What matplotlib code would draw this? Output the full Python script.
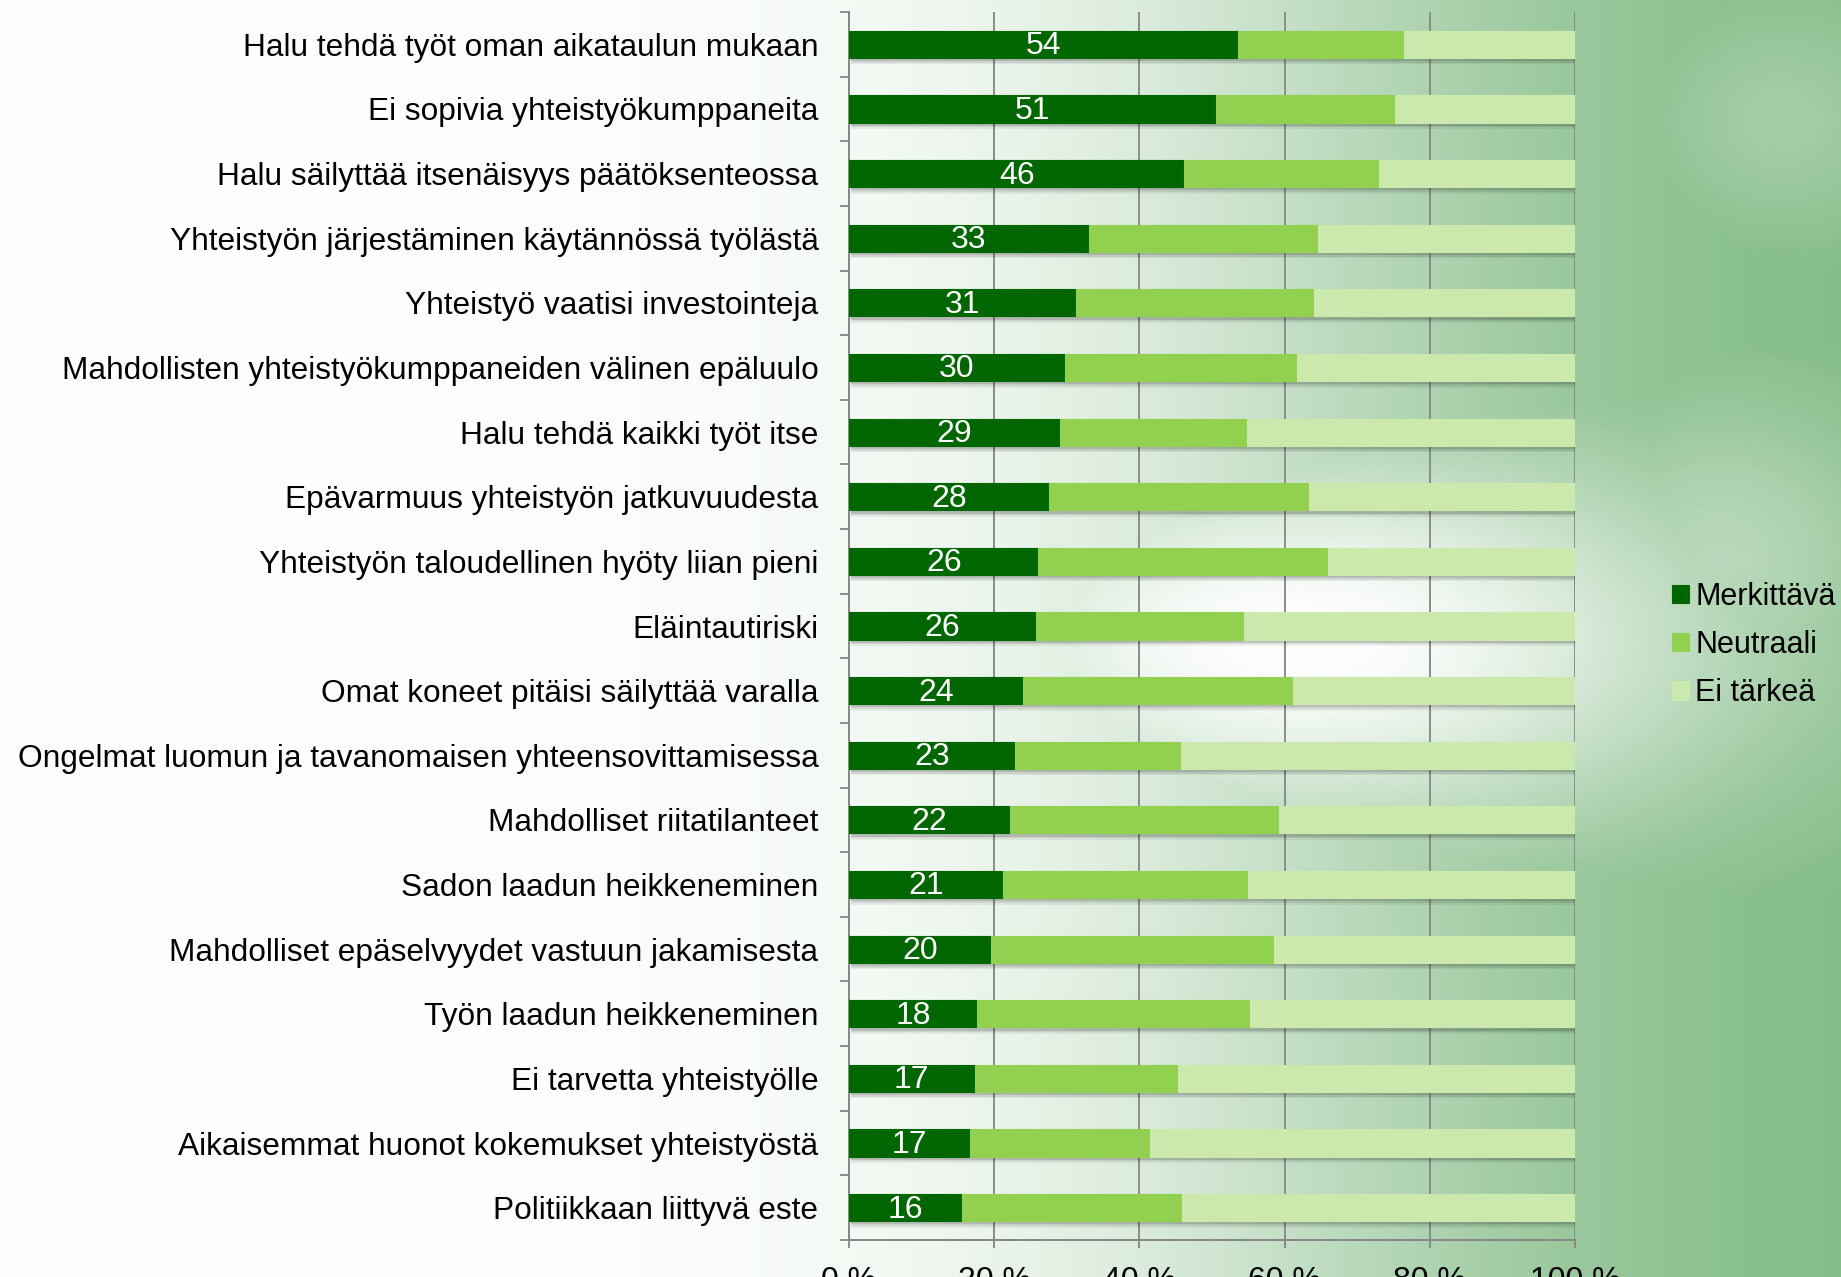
import numpy as np
import matplotlib
matplotlib.use("Agg")
import matplotlib.pyplot as plt

categories = [
    "Halu tehdä työt oman aikataulun mukaan",
    "Ei sopivia yhteistyökumppaneita",
    "Halu säilyttää itsenäisyys päätöksenteossa",
    "Yhteistyön järjestäminen käytännössä työlästä",
    "Yhteistyö vaatisi investointeja",
    "Mahdollisten yhteistyökumppaneiden välinen epäluulo",
    "Halu tehdä kaikki työt itse",
    "Epävarmuus yhteistyön jatkuvuudesta",
    "Yhteistyön taloudellinen hyöty liian pieni",
    "Eläintautiriski",
    "Omat koneet pitäisi säilyttää varalla",
    "Ongelmat luomun ja tavanomaisen yhteensovittamisessa",
    "Mahdolliset riitatilanteet",
    "Sadon laadun heikkeneminen",
    "Mahdolliset epäselvyydet vastuun jakamisesta",
    "Työn laadun heikkeneminen",
    "Ei tarvetta yhteistyölle",
    "Aikaisemmat huonot kokemukset yhteistyöstä",
    "Politiikkaan liittyvä este",
]
merkittava = [53.6, 50.6, 46.2, 33.0, 31.3, 29.7, 29.0, 27.6, 26.1, 25.7,
              24.0, 22.8, 22.2, 21.2, 19.6, 17.6, 17.3, 16.6, 15.6]
neutraali = [22.8, 24.6, 26.8, 31.6, 32.8, 32.0, 25.8, 35.7, 39.9, 28.7,
             37.1, 22.9, 37.0, 33.7, 38.9, 37.7, 28.0, 24.9, 30.3]
ei_tarkea = [100 - a - b for a, b in zip(merkittava, neutraali)]
series_names = ["Merkittävä", "Neutraali", "Ei tärkeä"]
xticks = [0, 20, 40, 60, 80, 100]
xticklabels = ["0 %", "20 %", "40 %", "60 %", "80 %", "100 %"]

colors = ["#006600", "#92d050", "#cce9ad"]
FONT = ["Liberation Sans", "DejaVu Sans"]
plt.rcParams["font.family"] = FONT

W, H = 1841, 1277
fig = plt.figure(figsize=(W / 100, H / 100), dpi=100)

# background
bg = fig.add_axes([0, 0, 1, 1], zorder=-5)
yy, xx = np.mgrid[0:H, 0:W].astype(float)
w_base = 1 / (1 + np.exp((xx - 1330) / 200.0))
w_e = np.exp(-(((xx - 1300) / 560.0) ** 2 + ((yy - 640) / 260.0) ** 2) * 1.4)
w_e2 = np.exp(-(((xx - 1720) / 240.0) ** 2 + ((yy - 560) / 220.0) ** 2) * 1.5) * 0.45
w_t = np.exp(-(((xx - 1780) / 200.0) ** 2 + ((yy - 120) / 160.0) ** 2) * 1.5) * 0.3
w = np.maximum.reduce([w_base, w_e, w_e2, w_t])
w = np.clip(w, 0, 1)
green = np.array([124, 184, 128]) / 255.0
white = np.array([1.0, 1.0, 1.0])
img = green[None, None, :] * (1 - w[..., None]) + white[None, None, :] * w[..., None]
bg.imshow(img, aspect="auto", extent=[0, 1, 0, 1], origin="upper")
bg.axis("off")

ax = fig.add_axes([849 / W, 1 - 1240 / H, (1575 - 849) / W, (1240 - 12) / H])
ax.set_facecolor("none")
n = len(categories)
y = np.arange(n)
bh = 0.42

left = np.zeros(n)
for dy, a in [(0.10, 0.06), (0.075, 0.08), (0.05, 0.12)]:
    ax.barh(y + dy, 100, left=0.25, height=bh, color="black", alpha=a,
            linewidth=0, zorder=2)
for vals, c, name in zip([merkittava, neutraali, ei_tarkea], colors, series_names):
    ax.barh(y, vals, left=left, height=bh, color=c, label=name, zorder=3,
            edgecolor=c, linewidth=0.8)
    left = left + np.array(vals)

for yi, v in zip(y, merkittava):
    ax.text(v / 2, yi + 0.03, f"{v:.0f}", ha="center", va="center",
            color="white", fontsize=23, zorder=4)

ax.set_xlim(0, 100)
ax.set_ylim(n - 0.5, -0.5)
ax.set_xticks(xticks)
ax.set_xticklabels(xticklabels, fontsize=23)
ax.set_yticks(y)
ax.set_yticklabels(categories, fontsize=22.8)
ax.tick_params(axis="y", which="major", length=0, pad=22)
ax.set_yticks(np.arange(-0.5, n, 1.0), minor=True)
ax.tick_params(axis="y", which="minor", length=6.5, width=1.3, color="#868686", direction="out")
ax.tick_params(axis="x", which="major", length=6, width=1.3, color="#868686", pad=13)
ax.grid(axis="x", color="#8c8c8c", linewidth=1.4, zorder=1)
ax.set_axisbelow(True)
for s in ["top", "right"]:
    ax.spines[s].set_visible(False)
for s in ["left", "bottom"]:
    ax.spines[s].set_color("#868686")
    ax.spines[s].set_linewidth(1.4)

leg = fig.legend(loc="center left", bbox_to_anchor=(1660 / W, 1 - 645 / H),
                 frameon=False, fontsize=22, handlelength=0.55, handleheight=0.55,
                 handletextpad=0.2, labelspacing=0.6, borderaxespad=0)

fig.savefig("out.png", dpi=100)
